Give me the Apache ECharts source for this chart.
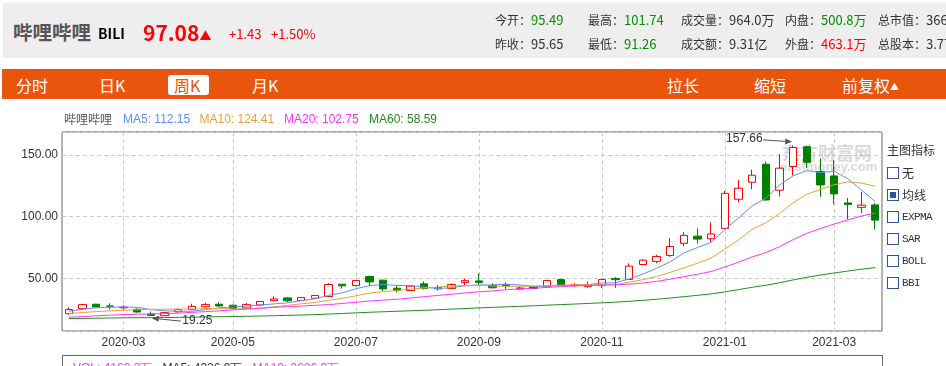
<!DOCTYPE html>
<html><head><meta charset="utf-8">
<script src="https://cdn.jsdelivr.net/npm/echarts@6/dist/echarts.min.js"></script>
<style>
html,body{margin:0;padding:0;background:#fff;width:946px;height:366px;overflow:hidden;font-family:"Noto Sans CJK SC","Noto Sans",sans-serif;}
#chart{position:absolute;left:0;top:0;width:946px;height:366px;z-index:0;}
.a{position:absolute;z-index:2;white-space:nowrap;}
#hdr{left:3px;top:3px;width:943px;height:55px;background:#eeeeee;z-index:1;}
#bar{left:2px;top:69px;width:944px;height:30px;background:#e9550c;z-index:1;}
.tb{color:#fff;font-size:16px;line-height:20px;top:75px;}
.lbl{font-size:12px;color:#333;line-height:20px;}
.val{font-size:13px;line-height:20px;}
.g{color:#0a8a0a;} .r{color:#ff0000;} .k{color:#333;}
.cb{width:10px;height:10px;border:1px solid #2d5596;background:#fff;}
.cbl{font-size:12px;color:#333;line-height:16px;}
.mono{font-family:"Liberation Mono","DejaVu Sans Mono",monospace;font-size:11px;letter-spacing:-0.6px;}
</style></head>
<body>
<div id="chart"></div>
<div id="hdr" class="a"></div>
<div class="a" style="left:13px;top:20px;font-size:19.5px;font-weight:bold;color:#555;line-height:24px;">哔哩哔哩</div>
<div class="a" style="left:98px;top:23px;font-size:14px;font-weight:bold;color:#000;line-height:20px;">BILI</div>
<div class="a r" style="left:143px;top:19px;font-size:21px;font-weight:bold;line-height:26px;">97.08<span style="font-size:12px;">▲</span></div>
<div class="a r" style="left:229px;top:24px;font-size:13px;line-height:20px;">+1.43</div>
<div class="a r" style="left:271px;top:24px;font-size:13px;line-height:20px;">+1.50%</div>

<div class="a lbl" style="left:495px;top:10px;">今开：<span class="val g">95.49</span></div>
<div class="a lbl" style="left:588px;top:10px;">最高：<span class="val g">101.74</span></div>
<div class="a lbl" style="left:681px;top:10px;">成交量：<span class="val k">964.0万</span></div>
<div class="a lbl" style="left:785px;top:10px;">内盘：<span class="val g">500.8万</span></div>
<div class="a lbl" style="left:878px;top:10px;">总市值：<span class="val k">366.2亿</span></div>
<div class="a lbl" style="left:495px;top:34px;">昨收：<span class="val k">95.65</span></div>
<div class="a lbl" style="left:588px;top:34px;">最低：<span class="val g">91.26</span></div>
<div class="a lbl" style="left:681px;top:34px;">成交额：<span class="val k">9.31亿</span></div>
<div class="a lbl" style="left:785px;top:34px;">外盘：<span class="val r">463.1万</span></div>
<div class="a lbl" style="left:878px;top:34px;">总股本：<span class="val k">3.77亿</span></div>

<div id="bar" class="a"></div>
<div class="a tb" style="left:16px;">分时</div>
<div class="a tb" style="left:99px;">日K</div>
<div class="a" style="left:168px;top:75px;width:41px;height:20px;background:#fff;border-radius:3px;"></div>
<div class="a tb" style="left:174px;color:#e9550c;">周K</div>
<div class="a tb" style="left:252px;">月K</div>
<div class="a tb" style="left:667px;">拉长</div>
<div class="a tb" style="left:754px;">缩短</div>
<div class="a tb" style="left:842px;">前复权<span style="font-size:9px;vertical-align:2px;">▲</span></div>

<div class="a cbl" style="left:887px;top:142px;">主图指标</div>
<div class="a cb" style="left:887px;top:167px;"></div><div class="a cbl" style="left:902px;top:165px;">无</div>
<div class="a cb" style="left:887px;top:189px;"><div style="position:absolute;left:2px;top:2px;width:6px;height:6px;background:#2d5596;"></div></div><div class="a cbl" style="left:902px;top:187px;">均线</div>
<div class="a cb" style="left:887px;top:211px;"></div><div class="a cbl mono" style="left:902px;top:209px;">EXPMA</div>
<div class="a cb" style="left:887px;top:233px;"></div><div class="a cbl mono" style="left:902px;top:231px;">SAR</div>
<div class="a cb" style="left:887px;top:255px;"></div><div class="a cbl mono" style="left:902px;top:253px;">BOLL</div>
<div class="a cb" style="left:887px;top:277px;"></div><div class="a cbl mono" style="left:902px;top:275px;">BBI</div>

<div class="a" style="left:62px;top:355px;width:819px;height:30px;border:1px solid #666;"></div>
<div class="a" style="left:73px;top:360px;font-size:12px;line-height:16px;font-family:'Liberation Sans',Arial,sans-serif;"><span style="color:#ff33ff;">VOL: 4160.3万</span>&nbsp;&nbsp;&nbsp;<span style="color:#333;">MA5: 4326.9万</span>&nbsp;&nbsp;&nbsp;<span style="color:#ff33ff;">MA10: 3626.9万</span></div>

<script>
const dates = ['2020-02-07','2020-02-14','2020-02-21','2020-02-28','2020-03-06','2020-03-13','2020-03-20','2020-03-27','2020-04-03','2020-04-09',
'2020-04-17','2020-04-24','2020-05-01','2020-05-08','2020-05-15','2020-05-22','2020-05-29','2020-06-05','2020-06-12','2020-06-19',
'2020-06-26','2020-07-02','2020-07-10','2020-07-17','2020-07-24','2020-07-31','2020-08-07','2020-08-14','2020-08-21','2020-08-28',
'2020-09-04','2020-09-11','2020-09-18','2020-09-25','2020-10-02','2020-10-09','2020-10-16','2020-10-23','2020-10-30','2020-11-06',
'2020-11-13','2020-11-20','2020-11-27','2020-12-04','2020-12-11','2020-12-18','2020-12-24','2020-12-31','2021-01-08','2021-01-15',
'2021-01-22','2021-01-29','2021-02-05','2021-02-12','2021-02-19','2021-02-26','2021-03-05','2021-03-12','2021-03-19','2021-03-26'];
const opens = [21.3,25.3,28.9,27.5,26.0,24.8,21.0,19.6,22.8,24.6,
26.8,28.9,28.1,25.9,28.3,31.8,34.0,32.0,33.8,35.1,
45.1,44.0,51.4,48.4,41.9,40.0,45.4,42.4,41.6,46.6,
47.8,44.1,44.7,41.3,42.9,42.9,48.9,44.0,43.1,44.4,
49.8,49.0,61.1,63.6,68.4,78.2,84.1,82.0,90.4,114.0,
127.8,142.4,121.3,140.5,156.5,136.4,132.9,111.0,107.4,109.4];
const closes = [24.6,28.6,26.7,27.2,26.5,22.6,19.8,22.1,24.5,27.2,
28.6,27.5,25.4,28.6,31.1,33.2,31.7,34.3,36.0,44.9,
43.8,48.1,47.0,41.3,40.2,43.5,41.6,41.4,44.9,48.0,
46.6,42.2,44.0,42.1,41.6,48.1,44.4,44.6,44.8,48.9,
48.8,59.8,64.6,67.6,75.7,84.7,81.7,85.8,118.8,122.9,
133.5,113.4,139.2,155.9,143.9,125.6,118.3,109.8,109.2,97.08];
const lows = [20.5,25.0,26.3,24.6,24.5,22.0,19.25,19.3,22.0,24.0,
26.0,26.7,25.0,25.5,28.0,31.1,30.7,31.5,33.5,34.8,
41.6,43.5,43.5,39.8,38.4,39.7,40.8,40.1,41.3,43.9,
43.9,41.8,41.3,40.5,41.0,42.5,44.0,43.0,42.4,42.0,
42.2,48.5,60.5,62.2,67.3,76.0,78.2,79.3,90.0,111.5,
122.1,113.0,116.1,133.2,139.2,116.0,110.0,97.8,102.8,89.5];
const highs = [26.4,29.0,29.2,29.6,28.0,25.5,23.0,22.5,25.5,29.3,
30.0,30.6,28.5,29.9,31.5,35.3,34.8,34.6,36.4,46.0,
45.3,48.5,52.0,49.0,44.4,43.8,47.4,44.4,45.8,49.7,
54.0,45.8,46.6,43.5,43.8,48.5,49.5,46.0,47.4,49.5,
50.8,62.0,65.5,69.0,82.3,87.4,90.4,95.3,120.7,129.7,
137.8,144.6,150.6,157.66,157.5,147.0,145.5,115.0,120.0,110.7];
const ma5 = [23.2,24.8,26.0,26.5,26.72,26.32,24.56,23.64,23.10,23.24,
24.44,25.98,26.64,27.46,28.24,29.16,30.00,31.78,33.26,36.02,
38.14,41.42,43.96,45.02,44.08,44.02,42.72,41.60,42.32,43.88,
44.50,44.62,45.14,44.58,43.30,43.60,44.04,44.16,44.70,46.16,
46.30,49.38,53.38,57.94,63.30,70.48,74.86,79.10,89.34,98.78,
108.54,114.88,125.56,132.98,137.18,135.60,136.58,130.70,121.36,112.15];
const ma10 = [21.4,22.2,22.9,23.5,24.0,24.4,24.7,24.9,25.0,24.98,
25.38,25.27,25.14,25.28,25.74,26.80,27.99,29.21,30.36,32.13,
33.65,35.71,37.87,39.14,40.05,41.08,42.07,42.78,43.67,43.98,
44.26,43.67,43.37,43.45,43.59,44.05,44.33,44.65,44.64,44.73,
44.95,46.71,48.77,51.32,54.73,58.39,62.12,66.24,73.64,81.04,
89.51,94.87,102.33,111.16,117.98,122.07,125.73,128.13,127.17,124.41];
const ma20 = [18.3,18.9,19.5,20.0,20.5,20.8,21.0,21.3,21.7,22.3,
22.9,23.5,24.3,24.9,25.6,26.3,26.9,27.4,28.0,28.56,
29.52,30.49,31.50,32.21,32.90,33.94,35.03,36.00,37.02,38.06,
38.96,39.69,40.62,41.30,41.82,42.57,43.20,43.72,44.16,44.36,
44.61,45.19,46.07,47.39,49.16,51.22,53.23,55.45,59.14,62.89,
67.23,70.79,75.55,81.24,86.36,90.23,93.93,97.19,100.41,102.75];
const ma60 = [17.20,17.39,17.56,17.73,17.88,17.98,18.02,18.11,18.23,18.40,
18.60,18.77,18.91,19.11,19.34,19.61,19.86,20.14,20.46,20.93,
21.37,21.89,22.39,22.80,23.18,23.62,24.03,24.44,24.91,25.42,
25.92,26.34,26.79,27.20,27.61,28.13,28.59,29.05,29.51,30.04,
30.57,31.29,32.08,32.92,33.90,35.03,36.11,37.26,38.95,40.72,
42.66,44.27,46.30,48.62,50.73,52.54,54.23,55.78,57.31,58.59];

const LATIN = '"Liberation Sans", Arial, sans-serif';
const CJK = '"Noto Sans CJK SC", sans-serif';
const C_MA5 = '#5b8ff9', C_MA10 = '#e9a134', C_MA20 = '#ff33ff', C_MA60 = '#1f8f1f';

const chart = echarts.init(document.getElementById('chart'));
function firstOddMonth(i) {
  if (i === 0) return false;
  const m = dates[i].slice(5, 7), pm = dates[i - 1].slice(5, 7);
  return m !== pm && parseInt(m, 10) % 2 === 1;
}
const candles = dates.map((d, i) => [opens[i], closes[i], lows[i], highs[i]]);
const lineS = (name, data, color) => ({
  name, type: 'line', data, symbol: 'none', smooth: false,
  lineStyle: { width: 1, color }, itemStyle: { color }, z: 3, silent: true
});

chart.setOption({
  animation: false,
  backgroundColor: 'transparent',
  grid: { left: 62, top: 132, width: 820, height: 199, show: true, borderColor: '#666', borderWidth: 1, backgroundColor: 'transparent' },
  xAxis: {
    type: 'category', data: dates, boundaryGap: true,
    axisLine: { show: false }, axisTick: { show: false },
    axisLabel: { interval: (i) => firstOddMonth(i), formatter: v => v.slice(0, 7), color: '#333', fontSize: 12, fontFamily: LATIN, margin: 6 },
    splitLine: { show: true, interval: (i) => firstOddMonth(i), alignWithLabel: true, lineStyle: { color: '#cccccc', type: [4, 3], width: 1 } }
  },
  yAxis: {
    type: 'value', min: 7.2, max: 168.5, splitNumber: 3, scale: true,
    axisLine: { show: false }, axisTick: { show: false },
    axisLabel: { showMinLabel: false, showMaxLabel: false, formatter: v => v.toFixed(2), color: '#333', fontSize: 12, fontFamily: LATIN, margin: 4 },
    splitLine: { show: true, lineStyle: { color: '#cccccc', type: [4, 3], width: 1 } }
  },
  series: [
    { name: 'K', type: 'candlestick', data: candles, barWidth: 8, z: 2,
      itemStyle: { color: '#ffffff', borderColor: '#ff0000', color0: '#008000', borderColor0: '#008000', borderWidth: 1 } },
    lineS('MA5', ma5, C_MA5),
    lineS('MA10', ma10, C_MA10),
    lineS('MA20', ma20, C_MA20),
    lineS('MA60', ma60, C_MA60)
  ]
});

function arrow(x1, y1, x2, y2, color) {
  const dx = x2 - x1, dy = y2 - y1, len = Math.hypot(dx, dy), ux = dx / len, uy = dy / len;
  const hl = 7, hw = 3;
  const bx = x2 - ux * hl, by = y2 - uy * hl;
  return [
    { type: 'line', shape: { x1, y1, x2: bx, y2: by }, style: { stroke: color, lineWidth: 1 }, z: 10 },
    { type: 'polygon', shape: { points: [[x2, y2], [bx - uy * hw, by + ux * hw], [bx + uy * hw, by - ux * hw]] }, style: { fill: color }, z: 10 }
  ];
}
const txt = (text, x, y, fill, font, align) => ({
  type: 'text', z: 10,
  style: { text, x, y, fill, font, align: align || 'left', textAlign: align || 'left', verticalAlign: 'middle', textVerticalAlign: 'middle' }
});

let hiIdx = 0, loIdx = 0;
highs.forEach((v, i) => { if (v > highs[hiIdx]) hiIdx = i; });
lows.forEach((v, i) => { if (v < lows[loIdx]) loIdx = i; });
const pHi = chart.convertToPixel({ gridIndex: 0 }, [dates[hiIdx], highs[hiIdx]]);
const pLo = chart.convertToPixel({ gridIndex: 0 }, [dates[loIdx], lows[loIdx]]);
const last = a => a[a.length - 1].toFixed(2);
const F12 = '12px ' + LATIN;

const g = [];
g.push(txt('哔哩哔哩', 64, 119.5, '#555', '12px ' + CJK));
g.push(txt('MA5: ' + last(ma5), 123, 119.5, C_MA5, F12));
g.push(txt('MA10: ' + last(ma10), 199.5, 119.5, C_MA10, F12));
g.push(txt('MA20: ' + last(ma20), 284, 119.5, C_MA20, F12));
g.push(txt('MA60: ' + last(ma60), 369, 119.5, C_MA60, F12));
// watermark
g.push({ type: 'text', z: 1, style: { text: '东方财富网', x: 782, y: 153, fill: 'rgba(170,170,170,0.45)', font: 'bold 18px ' + CJK, align: 'left', verticalAlign: 'middle', textAlign: 'left', textVerticalAlign: 'middle' } });
g.push({ type: 'text', z: 1, style: { text: 'eastmoney.com', x: 780, y: 167, fill: 'rgba(170,170,170,0.45)', font: 'bold 13px ' + LATIN, align: 'left', verticalAlign: 'middle', textAlign: 'left', textVerticalAlign: 'middle' } });
// high annotation
g.push(txt(highs[hiIdx].toFixed(2), pHi[0] - 30.5, pHi[1] - 6.5, '#333', F12, 'right'));
g.push(...arrow(pHi[0] - 30, pHi[1] - 5.5, pHi[0] - 1, pHi[1] - 3.5, '#555'));
// low annotation
g.push(txt(lows[loIdx].toFixed(2), pLo[0] + 31.5, pLo[1] + 4.5, '#333', F12, 'left'));
g.push(...arrow(pLo[0] + 30, pLo[1] + 5, pLo[0] + 1, pLo[1] + 2, '#555'));
chart.setOption({ graphic: g });
</script>
</body></html>
